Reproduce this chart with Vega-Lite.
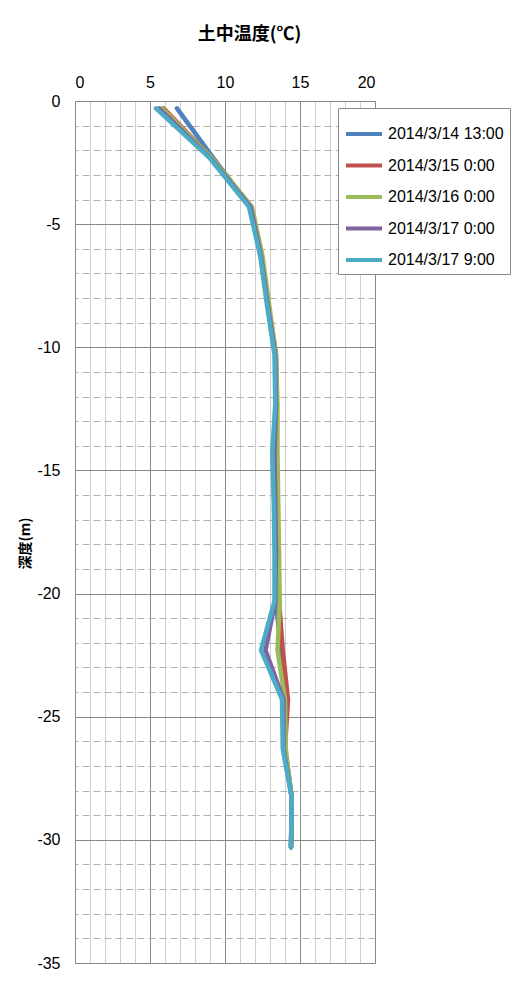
{
  "$schema": "https://vega.github.io/schema/vega-lite/v6.json",
  "width": 300,
  "height": 862,
  "autosize": {"type": "none"},
  "padding": {"left": 75, "top": 101, "right": 146, "bottom": 22},
  "background": "white",
  "data": {"values": [
    {"d": -0.3, "a": 6.8, "b": 5.9, "c": 5.8, "p": 5.6, "q": 5.4},
    {"d": -2.3, "a": 9.2, "b": 9.1, "c": 9.1, "p": 9.0, "q": 8.95},
    {"d": -4.3, "a": 11.7, "b": 11.75, "c": 11.8, "p": 11.7, "q": 11.6},
    {"d": -6.3, "a": 12.4, "b": 12.45, "c": 12.5, "p": 12.4, "q": 12.35},
    {"d": -8.3, "a": 12.85, "b": 12.9, "c": 12.95, "p": 12.85, "q": 12.8},
    {"d": -10.3, "a": 13.35, "b": 13.4, "c": 13.4, "p": 13.35, "q": 13.3},
    {"d": -12.3, "a": 13.4, "b": 13.45, "c": 13.5, "p": 13.4, "q": 13.35},
    {"d": -14.3, "a": 13.25, "b": 13.35, "c": 13.5, "p": 13.3, "q": 13.15},
    {"d": -16.3, "a": 13.3, "b": 13.45, "c": 13.55, "p": 13.35, "q": 13.25},
    {"d": -18.3, "a": 13.35, "b": 13.5, "c": 13.6, "p": 13.4, "q": 13.3},
    {"d": -20.3, "a": 13.4, "b": 13.6, "c": 13.65, "p": 13.35, "q": 13.3},
    {"d": -22.3, "a": 13.7, "b": 13.85, "c": 13.5, "p": 12.7, "q": 12.4},
    {"d": -24.3, "a": 14.1, "b": 14.2, "c": 14.0, "p": 13.9, "q": 13.8},
    {"d": -26.3, "a": 14.0, "b": 14.0, "c": 14.05, "p": 13.9, "q": 13.85},
    {"d": -28.3, "a": 14.45, "b": 14.45, "c": 14.45, "p": 14.45, "q": 14.45},
    {"d": -30.3, "a": 14.4, "b": 14.4, "c": 14.4, "p": 14.4, "q": 14.4}
  ]},
  "transform": [
    {"fold": ["a", "b", "c", "p", "q"], "as": ["key", "temp"]},
    {"lookup": "key", "from": {"data": {"values": [
      {"key": "a", "series": "2014/3/14 13:00"},
      {"key": "b", "series": "2014/3/15 0:00"},
      {"key": "c", "series": "2014/3/16 0:00"},
      {"key": "p", "series": "2014/3/17 0:00"},
      {"key": "q", "series": "2014/3/17 9:00"}
    ]}, "key": "key", "fields": ["series"]}}
  ],
  "layer": [
    {
      "mark": {"type": "line", "opacity": 0},
      "encoding": {
        "x": {"field": "temp", "type": "quantitative", "scale": {"domain": [0, 20], "nice": false, "zero": false},
          "axis": {"orient": "bottom", "values": [0,1,2,3,4,5,6,7,8,9,10,11,12,13,14,15,16,17,18,19,20], "labels": false, "ticks": false, "domain": false, "title": null, "grid": true, "gridColor": "#d0d0d0", "gridWidth": 1, "gridOpacity": 1}},
        "y": {"field": "d", "type": "quantitative", "scale": {"domain": [-35, 0], "nice": false, "zero": false},
          "axis": {"orient": "right", "values": [-35,-34,-33,-32,-31,-30,-29,-28,-27,-26,-25,-24,-23,-22,-21,-20,-19,-18,-17,-16,-15,-14,-13,-12,-11,-10,-9,-8,-7,-6,-5,-4,-3,-2,-1,0], "labels": false, "ticks": false, "domain": false, "title": null, "grid": true, "gridColor": "#b0b0b0", "gridDash": [7, 4], "gridWidth": 1, "gridOpacity": 1}},
        "detail": {"field": "series"}
      }
    },
    {
      "mark": {"type": "line", "strokeWidth": 4.5, "strokeCap": "round", "strokeJoin": "round"},
      "encoding": {
        "x": {"field": "temp", "type": "quantitative", "scale": {"domain": [0, 20], "nice": false, "zero": false},
          "axis": {"orient": "top", "values": [0, 5, 10, 15, 20], "ticks": false, "domain": false, "grid": true, "gridColor": "#878787", "gridWidth": 1, "gridOpacity": 1,
            "labelFont": "Liberation Sans", "labelFontSize": 16, "labelColor": "black", "labelPadding": 11,
            "title": "土中温度(℃)", "titleFont": "Noto Sans CJK JP", "titleFontSize": 18, "titleFontWeight": "bold", "titleColor": "black", "titlePadding": 31, "titleX": 174}},
        "y": {"field": "d", "type": "quantitative", "scale": {"domain": [-35, 0], "nice": false, "zero": false},
          "axis": {"orient": "left", "values": [-35, -30, -25, -20, -15, -10, -5, 0], "ticks": false, "domain": false, "grid": true, "gridColor": "#878787", "gridWidth": 1, "gridOpacity": 1,
            "labelExpr": "replace(datum.label, '\u2212', '-')",
            "labelFont": "Liberation Sans", "labelFontSize": 16, "labelColor": "black", "labelPadding": 15,
            "title": "深度(m)", "titleFont": "Noto Sans CJK JP", "titleFontSize": 14, "titleFontWeight": "bold", "titleColor": "black", "titlePadding": 4, "titleY": 442}},
        "color": {"field": "series", "type": "nominal",
          "scale": {"domain": ["2014/3/14 13:00", "2014/3/15 0:00", "2014/3/16 0:00", "2014/3/17 0:00", "2014/3/17 9:00"],
                    "range": ["#4F81BD", "#C0504D", "#9BBB59", "#8064A2", "#4BACC6"]},
          "legend": {"orient": "none", "legendX": 263, "legendY": 7, "title": null, "direction": "vertical",
            "symbolType": "stroke", "symbolSize": 1296, "symbolStrokeWidth": 4,
            "labelFont": "Liberation Sans", "labelFontSize": 16, "labelColor": "black", "labelOffset": 4,
            "strokeColor": "#8a8a8a", "fillColor": "white", "padding": 6, "rowPadding": 3.5}},
        "order": {"field": "d", "type": "quantitative", "sort": "descending"}
      }
    }
  ],
  "resolve": {"axis": {"x": "independent", "y": "independent"}},
  "config": {"view": {"stroke": "#878787", "strokeWidth": 1}}
}
